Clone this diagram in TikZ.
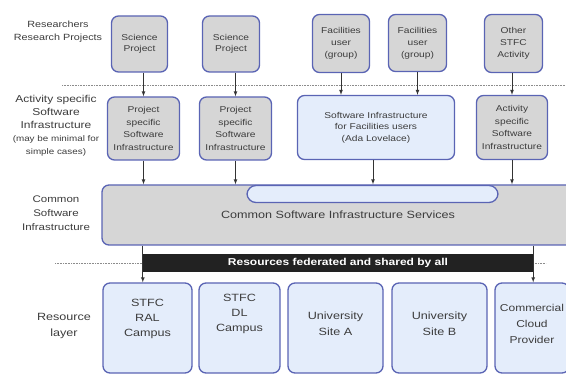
\documentclass[tikz,border=0pt]{standalone}
\usepackage{fontspec}
\setmainfont{Liberation Sans}[FakeStretch=1.2]
\usepackage{tikz}
\usetikzlibrary{shapes.geometric, arrows}
\usepackage{color,xcolor}

\definecolor{boxblue}{HTML}{5A64B4}
\definecolor{boxgrey}{HTML}{D6D6D6}
\definecolor{paleblue}{HTML}{E4EDFB}
\definecolor{bardark}{HTML}{222222}
\definecolor{labelgrey}{HTML}{3C3C3C}

% text that starts a given distance below the top of a resource box
\newcommand{\toptext}[2]{\parbox[c][88pt][t]{70pt}{\centering\vspace*{#1}#2}}

\begin{document}
\begin{tikzpicture}[x=1pt,y=-1pt,
    box/.style={draw=boxblue, line width=1.3pt, rounded corners=7pt, align=center, text=labelgrey, inner sep=0pt},
    greybox/.style={box, fill=boxgrey},
    bluebox/.style={box, fill=paleblue},
    side/.style={align=center, text=labelgrey},
    sep/.style={densely dotted, black!45, line width=0.6pt},
    link/.style={-latex, line width=0.7pt, black!80}]
    \useasboundingbox (0,0) rectangle (566,374);

    % layer names
    \node[side, font=\fontsize{9}{13}\selectfont] (lres) at (58,32) {Researchers\\Research Projects};
    \node[side, font=\fontsize{10}{13}\selectfont] (lact) at (56,125.5) {Activity specific\\Software\\Infrastructure\\{\fontsize{8.2}{12}\selectfont(may be minimal for}\\{\fontsize{8.2}{12}\selectfont simple cases)}};
    \node[side, font=\fontsize{9.6}{14}\selectfont] (lcom) at (56,213) {Common\\Software\\Infrastructure};
    \node[side, font=\fontsize{10.5}{16}\selectfont] (lreso) at (64,326) {Resource\\layer};

    % researchers and projects
    \node[greybox, minimum width=56pt, minimum height=56pt, font=\fontsize{8.5}{11}\selectfont] (sp1) at (139.5,44) {Science\\Project};
    \node[greybox, minimum width=57pt, minimum height=56pt, font=\fontsize{8.5}{11}\selectfont] (sp2) at (231,44) {Science\\Project};
    \node[greybox, minimum width=57pt, minimum height=58pt, font=\fontsize{8.5}{12}\selectfont] (fu1) at (341,43.5) {Facilities\\user\\(group)};
    \node[greybox, minimum width=58pt, minimum height=57pt, font=\fontsize{8.5}{12}\selectfont] (fu2) at (417.5,43) {Facilities\\user\\(group)};
    \node[greybox, minimum width=58pt, minimum height=58pt, font=\fontsize{8.5}{12}\selectfont] (other) at (513.5,43.5) {Other\\STFC\\Activity};

    \draw[sep] (62,85) -- (566,85);

    % activity specific software
    \node[greybox, minimum width=72pt, minimum height=63pt, font=\fontsize{8.5}{12.5}\selectfont] (ps1) at (143.5,128.5) {Project\\specific\\Software\\Infrastructure};
    \node[greybox, minimum width=72pt, minimum height=63pt, font=\fontsize{8.5}{12.5}\selectfont] (ps2) at (235.5,128.5) {Project\\specific\\Software\\Infrastructure};
    \node[bluebox, minimum width=157pt, minimum height=64pt, font=\fontsize{8.5}{11.5}\selectfont] (sif) at (376,127.5) {Software Infrastructure\\for Facilities users\\(Ada Lovelace)};
    \node[greybox, minimum width=71pt, minimum height=64pt, font=\fontsize{8.5}{12.5}\selectfont] (act) at (512,127.5) {Activity\\specific\\Software\\Infrastructure};

    \draw[link] (sp1.south -| ps1.north) -- (ps1.north);
    \draw[link] (sp2.south -| ps2.north) -- (ps2.north);
    \draw[link] (fu1.south) -- (fu1.south |- sif.north);
    \draw[link] (fu2.south) -- (fu2.south |- sif.north);
    \draw[link] (other.south -| act.north) -- (act.north);

    % common layer
    \node[greybox, minimum width=472pt, minimum height=60pt, font=\fontsize{10.5}{12}\selectfont] (common) at (338,215) {Common Software Infrastructure Services};
    \node[bluebox, rounded corners=9pt, minimum width=251pt, minimum height=17pt] (pill) at (372.5,194) {};

    \draw[link] (ps1.south) -- (ps1.south |- common.north);
    \draw[link] (ps2.south) -- (ps2.south |- common.north);
    \draw[link] (373,160) coordinate (sifout) -- (sifout |- common.north);
    \draw[link] (act.south) -- (act.south |- common.north);

    % shared resources
    \node[fill=bardark, text=white, inner sep=0pt, minimum width=390pt, minimum height=18pt, font=\bfseries\fontsize{10}{12}\selectfont] (bar) at (338,263) {Resources federated and shared by all};
    \draw[sep] (55,263) -- (bar.west);
    \draw[sep] (bar.east) -- (546,263);

    \node[bluebox, minimum width=89pt, minimum height=90pt, font=\fontsize{10.5}{15}\selectfont] (ral) at (147.5,328) {\toptext{15pt}{STFC\\RAL\\Campus}};
    \node[bluebox, minimum width=81pt, minimum height=90pt, font=\fontsize{10.5}{15}\selectfont] (dl) at (239.5,328) {\toptext{10pt}{STFC\\DL\\Campus}};
    \node[bluebox, minimum width=95pt, minimum height=90pt, font=\fontsize{10.5}{16}\selectfont] (unia) at (335.5,328) {\toptext{28pt}{University\\Site A}};
    \node[bluebox, minimum width=95pt, minimum height=90pt, font=\fontsize{10.5}{16}\selectfont] (unib) at (439.5,328) {\toptext{28pt}{University\\Site B}};
    \node[bluebox, minimum width=74pt, minimum height=90pt, font=\fontsize{10}{16}\selectfont] (cloud) at (532,328) {\toptext{20pt}{Commercial\\Cloud\\Provider}};

    \draw[link] (common.south -| bar.west) -- (ral.north -| bar.west);
    \draw[link] (common.south -| bar.east) -- (bar.east |- cloud.north);
\end{tikzpicture}
\end{document}
